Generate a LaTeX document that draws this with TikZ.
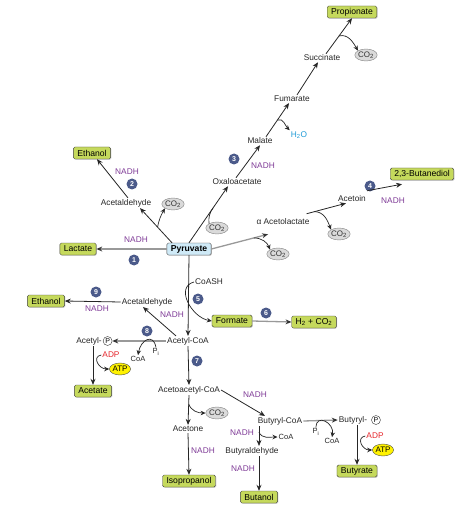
\documentclass[tikz,border=0pt]{standalone}
\usepackage{fontspec}
\setmainfont{Liberation Sans}
\usepackage{tikz}
\usetikzlibrary{positioning,arrows.meta,shapes.geometric,shadows,calc}
\definecolor{prodgreen}{HTML}{C5D95C}
\definecolor{pyrblue}{HTML}{CFEAF7}
\definecolor{stepblue}{HTML}{4B5A8A}
\definecolor{nadhpurple}{HTML}{7E3A96}
\definecolor{adpred}{HTML}{E5262B}
\definecolor{waterblue}{HTML}{1E9AD6}
\definecolor{cogray}{HTML}{DADADA}
\tikzset{
  chem/.style={inner sep=1pt,font=\fontsize{8.3}{9}\selectfont,text=black!85},
  prod/.style={draw=black!75,rounded corners=1.5pt,fill=prodgreen,inner xsep=4pt,inner ysep=1.5pt,
               minimum height=12pt,font=\fontsize{8.6}{9}\selectfont,
               drop shadow={shadow xshift=0.8pt,shadow yshift=-0.8pt,fill=black!35}},
  pyrbox/.style={prod,fill=pyrblue,font=\fontsize{8.6}{9}\selectfont\bfseries},
  num/.style={circle,fill=stepblue,text=white,inner sep=0pt,minimum size=11pt,
              font=\fontsize{7}{7}\selectfont\bfseries},
  gas/.style={ellipse,draw=black!50,fill=cogray,inner sep=0pt,minimum width=22pt,minimum height=12pt,
              font=\fontsize{8}{9}\selectfont,text=black!80},
  atpnode/.style={ellipse,draw=black!70,fill=yellow,inner sep=0pt,minimum width=21pt,minimum height=12pt,
                  font=\fontsize{8}{9}\selectfont},
  pcirc/.style={circle,draw=black!80,inner sep=0pt,minimum size=9pt,font=\fontsize{7}{8}\selectfont},
  nadh/.style={chem,text=nadhpurple},
  small/.style={chem,font=\fontsize{7.5}{8}\selectfont},
  arr/.style={-{Stealth[length=6pt,width=5pt]},draw=black!85,line width=0.8pt},
  garr/.style={draw=black!40,line width=1.3pt,
               arrows={-{Stealth[length=6pt,width=5pt,fill=black!80,line width=0pt]}}},
  side/.style={-{Stealth[length=5pt,width=4.5pt]},draw=black!85,line width=0.7pt},
  sidein/.style={draw=black!85,line width=0.7pt}
}

\begin{document}
\begin{tikzpicture}[x=1pt,y=-1pt]
  \useasboundingbox (0,0) rectangle (470,518);
  % pyruvate and products
  \node[pyrbox] (pyr) at (189,249) {Pyruvate};
  \node[prod] (prop) at (352,12) {Propionate};
  \node[prod] (eth1) at (92,153) {Ethanol};
  \node[prod] (lac) at (78,249) {Lactate};
  \node[prod] (btd) at (422,174) {2,3-Butanediol};
  \node[prod] (eth2) at (46,301) {Ethanol};
  \node[prod] (form) at (232,321) {Formate};
  \node[prod] (h2) at (314,322) {H\textsubscript{2} + CO\textsubscript{2}};
  \node[prod] (acetate) at (93,391) {Acetate};
  \node[prod] (iso) at (189,481) {Isopropanol};
  \node[prod] (buoh) at (259,497) {Butanol};
  \node[prod] (buty) at (357,471) {Butyrate};
  % intermediates
  \node[chem] (succ) at (322,58) {Succinate};
  \node[chem] (fum) at (292,99) {Fumarate};
  \node[chem] (mal) at (260,141) {Malate};
  \node[chem] (oxa) at (237,182) {Oxaloacetate};
  \node[chem] (acald) at (126,203) {Acetaldehyde};
  \node[chem] (acl) at (283,222) {α Acetolactate};
  \node[chem] (acn) at (352,199) {Acetoin};
  \node[chem] (acoa) at (188,341) {Acetyl-CoA};
  \node[chem] (acald2) at (147,302) {Acetaldehyde};
  \node[chem] (acp) at (89,341) {Acetyl-};
  \node[pcirc,right=0pt of acp] (p1) {P};
  \node[chem] (aacoa) at (189,390) {Acetoacetyl-CoA};
  \node[chem] (acet) at (188,429) {Acetone};
  \node[chem] (bcoa) at (280,421) {Butyryl-CoA};
  \node[chem] (bald) at (252,451) {Butyraldehyde};
  \node[chem] (bp) at (353,420) {Butyryl-};
  \node[pcirc,right=3pt of bp] (p2) {P};
  % gases and energy
  \node[gas] (co2a) at (366,55) {CO\textsubscript{2}};
  \node[gas] (co2b) at (173,204) {CO\textsubscript{2}};
  \node[gas] (co2c) at (217,228) {CO\textsubscript{2}};
  \node[gas] (co2d) at (278,254) {CO\textsubscript{2}};
  \node[gas] (co2e) at (339,234) {CO\textsubscript{2}};
  \node[gas] (co2f) at (217,413) {CO\textsubscript{2}};
  \node[atpnode] (atp1) at (120,369) {ATP};
  \node[atpnode] (atp2) at (383,450) {ATP};
  % cofactors
  \foreach \i/\x/\y in {a/136/240,b/127/172,c/263/166,d/393/201,e/172/315,f/97/309,g/255/395,h/242/433,k/243/469,m/203/451}
    \node[nadh] (nadh\i) at (\x,\y) {NADH};
  \node[chem,text=waterblue] (h2o) at (299,135) {H\textsubscript{2}O};
  \node[chem] (coash) at (209,282) {CoASH};
  \node[small] (pi1) at (156,352) {P\textsubscript{i}};
  \node[small] (coa1) at (138,359) {CoA};
  \node[chem,text=adpred] (adp1) at (111,355) {ADP};
  \node[small] (pi2) at (316,432) {P\textsubscript{i}};
  \node[small] (coa2) at (332,441) {CoA};
  \node[small] (coa3) at (286,437) {CoA};
  \node[chem,text=adpred] (adp2) at (375,436) {ADP};
  % step numbers
  \foreach \n/\x/\y in {1/134/260,2/132/184,3/234/159,4/370/186,5/198/299,6/266/313,7/197/361,8/147/331,9/96/292}
    \node[num] (s\n) at (\x,\y) {\n};

  % main arrows
  \draw[arr] ([xshift=4pt]succ.north) -- (prop.south);
  \draw[arr] ([xshift=5pt]fum.north) -- ([xshift=-4pt]succ.south);
  \draw[arr] ([xshift=6pt]mal.north) -- ([xshift=-3pt]fum.south);
  \draw[arr] ([xshift=-1pt]oxa.north) -- (mal.south);
  \draw[arr] (pyr.north) -- ([xshift=-9pt]oxa.south);
  \draw[arr] ([xshift=-17pt]pyr.north) -- ([xshift=14pt]acald.south);
  \draw[arr] ([xshift=2pt]acald.north) -- ([xshift=5pt]eth1.south);
  \draw[garr] (pyr.west) -- (lac.east);
  \draw[garr] (pyr.east) -- ([xshift=-15pt,yshift=-8pt]acl.south);
  \draw[arr] ([xshift=-4pt,yshift=4pt]acl.north east) -- ([xshift=-6pt]acn.south);
  \draw[arr] ([yshift=4pt]acn.north east) -- ([xshift=-20pt,yshift=-4pt]btd.south);
  \draw[arr] (pyr.south) -- (acoa.north);
  \draw[garr] (form.east) -- (h2.west);
  \draw[arr] ([xshift=-12pt]acoa.north) -- ([xshift=-4pt]acald2.south);
  \draw[arr] (acald2.west) -- (eth2.east);
  \draw[garr] (acoa.west) -- (p1.east);
  \draw[arr] (acp.south -| acetate.north) -- (acetate.north);
  \draw[arr] (acoa.south) -- (aacoa.north);
  \draw[arr] (aacoa.south) -- (acet.north);
  \draw[arr] (acet.south) -- (iso.north);
  \draw[arr] (aacoa.east) -- ([xshift=-15pt]bcoa.north);
  \draw[arr] ([xshift=-21pt]bcoa.south) -- ([xshift=7pt]bald.north);
  \draw[arr] ([xshift=7pt]bald.south) -- (buoh.north);
  \draw[garr] (bcoa.east) -- (bp.west);
  \draw[arr] (bp.south -| buty.north) -- (buty.north);

  % side reactions
  \draw[side] ($([xshift=4pt]succ.north)!0.5!(prop.south)$) to[out=15,in=120] (co2a.north west);
  \draw[side] ($([xshift=6pt]mal.north)!0.5!([xshift=-3pt]fum.south)$) to[out=20,in=135] (h2o.north west);
  \draw[sidein] (co2c.north west) to[out=95,in=235] ($(pyr.north)!0.62!([xshift=-9pt]oxa.south)$);
  \draw[side] ($([xshift=-17pt]pyr.north)!0.45!([xshift=14pt]acald.south)$) to[out=80,in=240] (co2b.south west);
  \draw[side] ($(pyr.east)!0.75!([xshift=-15pt,yshift=-8pt]acl.south)$) to[out=0,in=110] (co2d.north west);
  \draw[side] ($([xshift=-4pt,yshift=4pt]acl.north east)!0.2!([xshift=-6pt]acn.south)$) to[out=0,in=110] (co2e.north west);
  \draw[side] (coash.west) to[out=195,in=170,looseness=1.2] (form.west);
  \draw[side] (pi1.north) to[out=100,in=80,looseness=2] (coa1.north);
  \draw[side] (adp1.west) to[out=190,in=180,looseness=1.6] (atp1.west);
  \draw[side] ($(aacoa.south)!0.3!(acet.north)$) to[out=-70,in=180] (co2f.west);
  \draw[side] ($([xshift=-21pt]bcoa.south)!0.3!([xshift=7pt]bald.north)$) to[out=-70,in=180] (coa3.west);
  \draw[side] (pi2.north) to[out=90,in=80,looseness=2] (coa2.north);
  \draw[side] (adp2.west) to[out=190,in=180,looseness=1.6] (atp2.west);
\end{tikzpicture}
\end{document}
